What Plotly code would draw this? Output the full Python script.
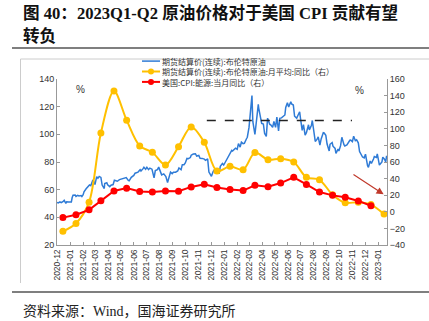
import plotly.graph_objects as go

# ---------------- data ----------------
brent_dates = [
    "2020-12-01","2020-12-04","2020-12-08","2020-12-11","2020-12-15","2020-12-18","2020-12-22","2020-12-24","2020-12-29",
    "2021-01-04","2021-01-06","2021-01-08","2021-01-13","2021-01-15","2021-01-19","2021-01-22","2021-01-27","2021-01-29",
    "2021-02-01","2021-02-03","2021-02-08","2021-02-12","2021-02-16","2021-02-19","2021-02-24","2021-02-26",
    "2021-03-01","2021-03-05","2021-03-08","2021-03-11","2021-03-15","2021-03-18","2021-03-23","2021-03-24","2021-03-29","2021-03-31",
    "2021-04-05","2021-04-08","2021-04-13","2021-04-16","2021-04-20","2021-04-23","2021-04-28",
    "2021-05-03","2021-05-06","2021-05-11","2021-05-14","2021-05-19","2021-05-21","2021-05-26",
    "2021-06-01","2021-06-04","2021-06-08","2021-06-11","2021-06-16","2021-06-18","2021-06-23","2021-06-25","2021-06-29",
    "2021-07-02","2021-07-06","2021-07-09","2021-07-14","2021-07-19","2021-07-22","2021-07-27","2021-07-30",
    "2021-08-03","2021-08-06","2021-08-11","2021-08-16","2021-08-20","2021-08-24","2021-08-27","2021-08-31",
    "2021-09-03","2021-09-08","2021-09-13","2021-09-16","2021-09-21","2021-09-24","2021-09-28",
    "2021-10-01","2021-10-05","2021-10-08","2021-10-13","2021-10-15","2021-10-20","2021-10-25","2021-10-28",
    "2021-11-02","2021-11-05","2021-11-10","2021-11-15","2021-11-18","2021-11-23","2021-11-26","2021-11-30",
    "2021-12-02","2021-12-06","2021-12-09","2021-12-14","2021-12-17","2021-12-20","2021-12-23","2021-12-28","2021-12-31",
    "2022-01-04","2022-01-07","2022-01-12","2022-01-14","2022-01-19","2022-01-21","2022-01-26","2022-01-28",
    "2022-02-01","2022-02-04","2022-02-08","2022-02-11","2022-02-15","2022-02-18","2022-02-23","2022-02-25",
    "2022-03-01","2022-03-04","2022-03-08","2022-03-10","2022-03-15","2022-03-18","2022-03-23","2022-03-24","2022-03-29","2022-03-31",
    "2022-04-04","2022-04-07","2022-04-11","2022-04-14","2022-04-19","2022-04-22","2022-04-26","2022-04-29",
    "2022-05-03","2022-05-06","2022-05-10","2022-05-13","2022-05-17","2022-05-20","2022-05-25","2022-05-27","2022-05-31",
    "2022-06-03","2022-06-08","2022-06-10","2022-06-14","2022-06-17","2022-06-22","2022-06-24","2022-06-29",
    "2022-07-01","2022-07-05","2022-07-08","2022-07-12","2022-07-15","2022-07-20","2022-07-22","2022-07-27","2022-07-29",
    "2022-08-02","2022-08-05","2022-08-09","2022-08-12","2022-08-16","2022-08-19","2022-08-24","2022-08-26","2022-08-30",
    "2022-09-02","2022-09-07","2022-09-09","2022-09-14","2022-09-16","2022-09-21","2022-09-23","2022-09-28","2022-09-30",
    "2022-10-04","2022-10-07","2022-10-12","2022-10-14","2022-10-19","2022-10-21","2022-10-26","2022-10-28",
    "2022-11-01","2022-11-04","2022-11-08","2022-11-11","2022-11-15","2022-11-18","2022-11-23","2022-11-25","2022-11-29",
    "2022-12-02","2022-12-07","2022-12-09","2022-12-13","2022-12-16","2022-12-21","2022-12-23","2022-12-28","2022-12-30",
    "2023-01-04","2023-01-06","2023-01-10","2023-01-12","2023-01-16","2023-01-19","2023-01-21",
]
brent_price = [
    50.8, 50.4, 51.2, 50.6, 51.3, 52.3, 50.1, 51.3, 51.1,
    51.1, 54.3, 56.0, 56.1, 55.1, 55.9, 55.4, 55.8, 55.0,
    56.4, 58.5, 60.6, 62.4, 63.4, 62.9, 67.0, 66.1,
    63.7, 69.4, 68.2, 69.6, 68.9, 63.3, 60.8, 64.4, 65.0, 63.5,
    62.2, 63.2, 63.7, 66.8, 66.6, 66.1, 67.3,
    67.6, 68.1, 68.6, 68.7, 66.7, 66.4, 68.9,
    70.3, 71.9, 72.2, 72.7, 74.4, 73.5, 75.2, 76.2, 74.8,
    76.2, 74.5, 75.6, 74.8, 68.6, 73.8, 74.5, 76.3,
    72.4, 70.7, 71.4, 69.5, 65.2, 70.1, 72.7, 71.6,
    72.6, 72.6, 73.5, 75.7, 74.4, 78.1, 78.1,
    79.3, 82.6, 82.4, 83.2, 84.9, 85.8, 86.0, 84.3,
    84.7, 82.7, 82.6, 82.1, 81.2, 82.3, 72.7, 70.6,
    69.7, 73.1, 74.4, 73.7, 73.5, 71.5, 76.9, 78.9, 77.8,
    80.0, 81.8, 84.7, 86.1, 88.4, 87.9, 90.0, 90.0,
    89.2, 93.3, 90.8, 94.4, 93.3, 93.5, 96.8, 97.9,
    105.0, 118.1, 128.0, 109.3, 99.9, 107.9, 121.6, 119.0, 110.2, 107.9,
    107.5, 100.6, 98.5, 111.7, 107.3, 106.7, 105.0, 109.3,
    105.0, 112.4, 102.5, 111.6, 111.9, 112.6, 114.0, 119.4, 122.8,
    119.7, 123.6, 122.0, 121.2, 113.1, 111.7, 113.1, 116.3,
    111.6, 102.8, 107.0, 99.5, 101.2, 106.9, 103.2, 106.6, 110.0,
    100.5, 94.9, 96.3, 98.2, 92.3, 96.7, 101.2, 101.0, 99.3,
    93.0, 88.0, 92.8, 94.1, 91.4, 89.8, 86.2, 89.3, 88.0,
    91.8, 97.9, 92.5, 91.6, 92.4, 93.5, 95.7, 95.8,
    94.7, 98.6, 95.4, 96.0, 93.9, 87.6, 85.4, 83.6, 83.0,
    85.6, 77.2, 76.1, 80.7, 79.0, 82.2, 83.9, 83.3, 85.9,
    77.8, 78.6, 80.1, 83.5, 82.0, 80.0, 84.5,
]

month_dates = [
    "2020-12-15","2021-01-15","2021-02-15","2021-03-15","2021-04-15","2021-05-15","2021-06-15",
    "2021-07-15","2021-08-15","2021-09-15","2021-10-15","2021-11-15","2021-12-15",
    "2022-01-15","2022-02-15","2022-03-15","2022-04-15","2022-05-15","2022-06-15",
    "2022-07-15","2022-08-15","2022-09-15","2022-10-15","2022-11-15","2022-12-15","2023-01-15",
]
brent_yoy = [
    -23.5, -14.0, 11.6, 95.0, 145.5, 110.4, 79.4, 71.7, 56.4, 78.5, 102.3, 83.8, 49.1,
    54.8, 50.7, 71.3, 62.8, 64.0, 60.0, 41.5, 38.6, 20.5, 10.8, 11.6, 8.7, -2.8,
]
cpi_energy_yoy = [
    -7.0, -3.6, 2.4, 13.2, 25.1, 28.5, 24.5, 23.8, 25.0, 24.8, 30.0, 33.3, 29.3,
    27.0, 25.6, 32.0, 30.3, 34.6, 41.6, 32.9, 23.8, 19.8, 17.6, 13.1, 7.3,
]

ref_level = 110
ref_dates = ["2021-11-21", "2022-10-31"]
arrow_tail = ("2022-10-31", 46)
arrow_head = ("2023-01-14", 21)

tick_labels_fmt = "%Y-%m"
names = [
    "期货结算价(连续):布伦特原油",
    "期货结算价(连续):布伦特原油:月平均:同比（右）",
    "美国:CPI:能源:当月同比（右）",
]
BLUE, YELLOW, RED = "#2f7bd6", "#FFC000", "#FF0000"

# ---------------- figure ----------------
fig = go.Figure()
fig.add_trace(go.Scatter(x=brent_dates, y=brent_price, mode="lines",
                         line=dict(color=BLUE, width=1.5), name=names[0], yaxis="y"))
fig.add_trace(go.Scatter(x=ref_dates, y=[ref_level, ref_level], mode="lines",
                         line=dict(color="#222222", width=1.3, dash="dash"), yaxis="y",
                         showlegend=False))
fig.add_trace(go.Scatter(x=month_dates, y=brent_yoy, mode="lines+markers",
                         line=dict(color=YELLOW, width=2, shape="spline", smoothing=0.9),
                         marker=dict(size=7, color=YELLOW), name=names[1], yaxis="y2"))
fig.add_trace(go.Scatter(x=month_dates[:len(cpi_energy_yoy)], y=cpi_energy_yoy, mode="lines+markers",
                         line=dict(color=RED, width=2),
                         marker=dict(size=7, color=RED), name=names[2], yaxis="y2"))

L, R, T, B = 57, 387, 79, 245
W, H = 429, 321
pw, ph = R - L, B - T

def px(xp):
    return (xp - L) / pw

def py(yp):
    return (B - yp) / ph

tickfont = dict(family="Liberation Sans, Arial", size=9, color="#333333")

fig.update_layout(
    width=W, height=H,
    margin=dict(l=L, r=W - R, t=T, b=H - B),
    paper_bgcolor="white", plot_bgcolor="white",
    showlegend=False,
    xaxis=dict(type="date", range=["2020-12-01", "2023-01-22"], dtick="M1", tick0="2020-12-01",
               tickformat=tick_labels_fmt, tickangle=-90,
               tickfont=dict(family="Liberation Sans, Arial", size=8.5, color="#333333"),
               showline=True, linecolor="#999999", linewidth=1, ticks="inside", ticklen=3,
               tickcolor="#999999", showgrid=False, zeroline=False),
    yaxis=dict(range=[20, 140], dtick=20, showline=True, linecolor="#999999", linewidth=1,
               ticks="inside", ticklen=3, tickcolor="#999999", showgrid=False, zeroline=False,
               tickfont=tickfont),
    yaxis2=dict(range=[-40, 160], dtick=20, overlaying="y", side="right", showline=True,
                linecolor="#999999", linewidth=1, ticks="inside", ticklen=3, tickcolor="#999999",
                showgrid=False, zeroline=False, tickfont=tickfont),
)

# arrow
fig.add_annotation(x=arrow_head[0], y=arrow_head[1], ax=arrow_tail[0], ay=arrow_tail[1],
                   xref="x", yref="y2", axref="x", ayref="y2", text="", showarrow=True,
                   arrowhead=2, arrowsize=1.2, arrowwidth=1.2, arrowcolor="#c0392b")

# % labels
fig.add_annotation(x=px(74), y=py(82), xref="paper", yref="paper", text="%", showarrow=False,
                   font=dict(family="Liberation Sans, Arial", size=10, color="#333333"))
fig.add_annotation(x=px(366), y=py(83), xref="paper", yref="paper", text="%", showarrow=False,
                   font=dict(family="Liberation Sans, Arial", size=10, color="#333333"))

# title
title_font = dict(family="Liberation Serif, Noto Sans CJK SC", size=16.6, color="#111111")
fig.add_annotation(x=px(21), y=py(13), xref="paper", yref="paper", xanchor="left", yanchor="middle",
                   text="<b>图 40：2023Q1-Q2 原油价格对于美国 CPI 贡献有望</b>", showarrow=False, font=title_font)
fig.add_annotation(x=px(21), y=py(37), xref="paper", yref="paper", xanchor="left", yanchor="middle",
                   text="<b>转负</b>", showarrow=False, font=title_font)

# source
fig.add_annotation(x=px(21), y=py(311), xref="paper", yref="paper", xanchor="left", yanchor="middle",
                   text="资料来源：Wind，国海证券研究所", showarrow=False,
                   font=dict(family="Liberation Serif, Noto Sans CJK SC", size=14, color="#222222"))

# rules and frame
shapes = [
    dict(type="line", xref="paper", yref="paper", x0=px(12), x1=px(429), y0=py(48), y1=py(48),
         line=dict(color="#555555", width=1.5)),
    dict(type="line", xref="paper", yref="paper", x0=px(12), x1=px(429), y0=py(292), y1=py(292),
         line=dict(color="#555555", width=1.5)),
    dict(type="line", xref="paper", yref="paper", x0=px(20.5), x1=px(429), y0=py(59), y1=py(59),
         line=dict(color="#cccccc", width=1)),
    dict(type="line", xref="paper", yref="paper", x0=px(20.5), x1=px(20.5), y0=py(59), y1=py(283),
         line=dict(color="#cccccc", width=1)),
]

# custom compact legend (one text block, three rows)
leg_size = 8
line_h = leg_size * 1.3
leg_mid = 71.5
leg_rows = [leg_mid - line_h, leg_mid, leg_mid + line_h]
leg_colors = [BLUE, YELLOW, RED]
for i, (yy, col) in enumerate(zip(leg_rows, leg_colors)):
    shapes.append(dict(type="line", xref="paper", yref="paper", x0=px(142), x1=px(160),
                       y0=py(yy), y1=py(yy), line=dict(color=col, width=1.5 if i == 0 else 2)))
    if i > 0:
        shapes.append(dict(type="circle", xref="paper", yref="paper", x0=px(148), x1=px(154),
                           y0=py(yy + 3), y1=py(yy - 3), fillcolor=col, line=dict(color=col, width=0)))
fig.add_annotation(x=px(161), y=py(leg_mid), xref="paper", yref="paper", xanchor="left", yanchor="middle",
                   align="left", text="<br>".join(names), showarrow=False, borderpad=0,
                   font=dict(family="Noto Sans CJK SC", size=leg_size, color="#333333"))

fig.update_layout(shapes=shapes)
fig.write_html("out.html")
